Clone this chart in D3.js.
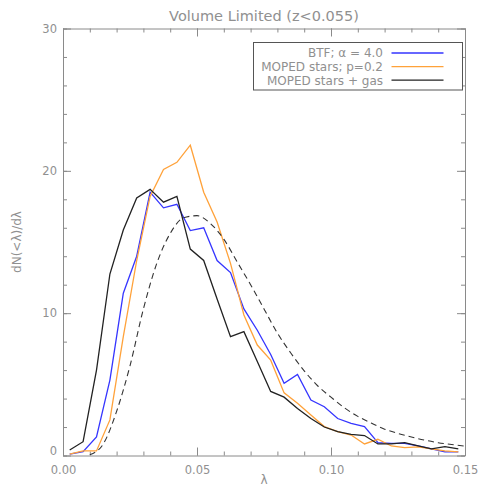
<!DOCTYPE html>
<html lang="en">
<head>
<meta charset="UTF-8">
<title>Volume Limited</title>
<script src="https://cdn.jsdelivr.net/npm/d3@7/dist/d3.min.js"></script>
<style>
	body { margin: 0; background: #fff; }
	text { font-family: "DejaVu Sans", sans-serif; fill: #909090; }
	.axis path, .axis line { stroke: #8a8a8a; }
</style>
</head>
<body>
<script>
// bin centres (lambda)
var lambdaBins = [0.0025, 0.0075, 0.0125, 0.0175, 0.0225, 0.0275, 0.0325, 0.0375, 0.0425, 0.0475,
	0.0525, 0.0575, 0.0625, 0.0675, 0.0725, 0.0775, 0.0825, 0.0875, 0.0925, 0.0975,
	0.1025, 0.1075, 0.1125, 0.1175, 0.1225, 0.1275, 0.1325, 0.1375, 0.1425, 0.1475];

var btfValues = [0.1, 0.27, 1.3, 5.3, 11.4, 14.0, 18.5, 17.4, 17.65, 15.8,
	16.0, 13.7, 12.85, 10.3, 8.8, 7.1, 5.07, 5.7, 3.9, 3.43,
	2.6, 2.26, 2.03, 0.9, 0.85, 0.85, 0.67, 0.46, 0.25, 0.25];

var mopedStarsValues = [0.1, 0.32, 0.32, 2.5, 8.35, 13.7, 18.2, 20.1, 20.6, 21.8,
	18.5, 16.4, 13.5, 9.87, 7.76, 6.7, 4.4, 3.67, 2.85, 2.03,
	1.67, 1.44, 0.81, 1.14, 0.67, 0.55, 0.6, 0.46, 0.32, 0.25];

var mopedGasValues = [0.39, 0.97, 6.0, 12.75, 15.84, 18.1, 18.7, 17.8, 18.2, 14.5,
	13.7, 11.0, 8.35, 8.7, 6.6, 4.5, 4.1, 3.3, 2.6, 2.0,
	1.67, 1.49, 1.4, 0.81, 0.81, 0.9, 0.67, 0.46, 0.62, 0.46];

// model curve (dashed)
var modelLambda = [0.010, 0.015, 0.020, 0.025, 0.030, 0.035, 0.040, 0.045, 0.050, 0.055,
	0.060, 0.065, 0.070, 0.075, 0.080, 0.085, 0.090, 0.095, 0.100, 0.105,
	0.110, 0.115, 0.120, 0.125, 0.130, 0.135, 0.140, 0.145, 0.150];
var modelValues = [0.05, 0.8, 3.1, 6.3, 10.3, 13.5, 15.6, 16.7, 16.85, 16.3,
	15.2, 13.6, 12.0, 10.3, 8.6, 7.2, 5.95, 4.9, 4.1, 3.35,
	2.75, 2.28, 1.85, 1.55, 1.3, 1.08, 0.9, 0.77, 0.66];

var legendLabels = ["BTF; \u03b1 = 4.0", "MOPED stars; p=0.2", "MOPED stars + gas"];
var legendColors = ["#3535ff", "#ffa23a", "#222222"];

var xMajor = [0, 0.05, 0.10, 0.15];
var yMajor = [0, 10, 20, 30];

var margin = {top: 28.5, right: 20, bottom: 32.5, left: 63},
	width = 485 - margin.left - margin.right,
	height = 488 - margin.top - margin.bottom;

var svg = d3.select("body").append("svg")
	.attr("width", 485)
	.attr("height", 488);

var g = svg.append("g")
	.attr("transform", "translate(" + margin.left + "," + margin.top + ")");

var x = d3.scaleLinear().domain([0, 0.15]).range([0, width]);
var y = d3.scaleLinear().domain([0, 30]).range([height, 0]);

// axes: major ticks with labels, minor ticks without
function addAxis(axisFn, scale, major, minor, fmt, tx, ty, labels) {
	var ax = g.append("g").attr("class", "axis")
		.attr("transform", "translate(" + tx + "," + ty + ")")
		.call(axisFn(scale).tickValues(major).tickSizeInner(-8).tickSizeOuter(0)
			.tickPadding(labels ? 6 : 0).tickFormat(labels ? fmt : ""));
	ax.selectAll("text").style("font-size", "11.5px");
	g.append("g").attr("class", "axis")
		.attr("transform", "translate(" + tx + "," + ty + ")")
		.call(axisFn(scale).tickValues(minor).tickSizeInner(-4).tickSizeOuter(0).tickFormat(""))
		.select(".domain").remove();
	return ax;
}
var xMinor = d3.range(0, 0.1501, 0.01);
var yMinor = d3.range(0, 30.01, 2);
addAxis(d3.axisBottom, x, xMajor, xMinor, d3.format(".2f"), 0, height, true)
	.selectAll("text").attr("y", 10);
addAxis(d3.axisTop, x, xMajor, xMinor, null, 0, 0, false);
var yAx = addAxis(d3.axisLeft, y, yMajor, yMinor, d3.format("d"), 0, 0, true);
// the zero label sits slightly above its tick
yAx.selectAll(".tick text").filter(function(d) { return d === 0; }).attr("dy", "-0.05em");
addAxis(d3.axisRight, y, yMajor, yMinor, null, width, 0, false);
g.selectAll(".axis text").style("fill", "#909090").style("font-family", "DejaVu Sans");

// data lines
var line = d3.line()
	.x(function(d) { return x(d[0]); })
	.y(function(d) { return y(d[1]); });

var series = [btfValues, mopedStarsValues, mopedGasValues];
series.forEach(function(vals, i) {
	g.append("path")
		.datum(lambdaBins.map(function(l, j) { return [l, vals[j]]; }))
		.attr("fill", "none")
		.attr("stroke", legendColors[i])
		.attr("stroke-width", 1.3)
		.attr("d", line);
});

g.append("path")
	.datum(modelLambda.map(function(l, j) { return [l, modelValues[j]]; }))
	.attr("fill", "none")
	.attr("stroke", "#333")
	.attr("stroke-width", 1.1)
	.attr("stroke-dasharray", "6,4")
	.attr("d", line.curve(d3.curveMonotoneX));

// legend
var legend = g.append("g").attr("transform", "translate(" + (253.5 - margin.left) + "," + (42.5 - margin.top) + ")");
legend.append("rect")
	.attr("width", 209)
	.attr("height", 47.5)
	.attr("fill", "#fff")
	.attr("stroke", "#555")
	.attr("stroke-width", 1);
legendLabels.forEach(function(lab, i) {
	var ly = 10.5 + i * 13.6;
	legend.append("text")
		.attr("x", 129.5)
		.attr("y", ly + 4.3)
		.attr("text-anchor", "end")
		.style("font-size", "12px")
		.text(lab);
	legend.append("line")
		.attr("x1", 138).attr("x2", 190)
		.attr("y1", ly).attr("y2", ly)
		.attr("stroke", legendColors[i])
		.attr("stroke-width", 1.3);
});

// titles
svg.append("text")
	.attr("x", margin.left + width / 2)
	.attr("y", 21)
	.attr("text-anchor", "middle")
	.style("font-size", "14.5px")
	.text("Volume Limited (z<0.055)");

svg.append("text")
	.attr("x", margin.left + width / 2)
	.attr("y", 484)
	.attr("text-anchor", "middle")
	.style("font-size", "12px")
	.text("\u03bb");

svg.append("text")
	.attr("transform", "translate(21," + (margin.top + height / 2) + ") rotate(-90)")
	.attr("text-anchor", "middle")
	.style("font-size", "12px")
	.text("dN(<\u03bb)/d\u03bb");
</script>
</body>
</html>
